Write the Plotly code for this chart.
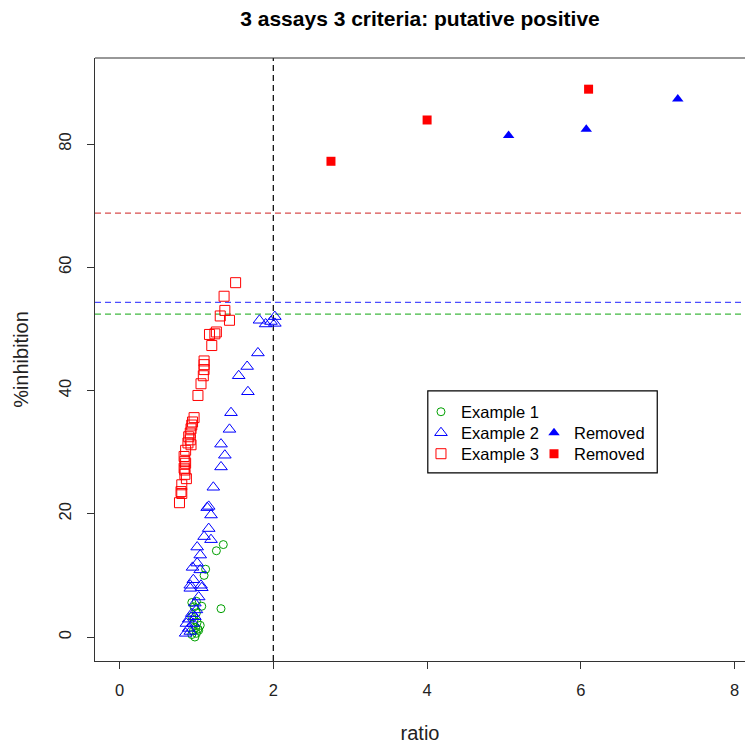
import plotly.graph_objects as go

# Example 1 (open circles)
ex1_ratio = [1.35, 1.26, 1.12, 1.10, 1.32, 1.07, 0.94, 1.00, 1.05, 1.00,
             0.98, 0.96, 0.94, 1.00, 0.97, 1.02, 0.94, 0.99, 1.01, 0.97, 1.03]
ex1_inhib = [15.0, 14.0, 11.0, 10.0, 4.6, 5.0, 5.6, 5.8, 1.9, 0.6,
             0.0, 1.0, 3.3, 3.9, 4.9, 1.3, 0.4, 1.5, 2.4, 2.8, 1.1]

# Example 2 (open triangles)
ex2_ratio = [2.02, 1.82, 1.90, 2.02, 1.97, 1.80, 1.66, 1.55, 1.67, 1.45,
             1.43, 1.32, 1.37, 1.32, 1.22, 1.16, 1.14, 1.19, 1.16, 1.10,
             1.19, 1.01, 1.05, 1.01, 1.05, 0.96, 0.92, 1.06, 0.92, 1.07,
             0.98, 1.00, 0.94, 0.90, 0.87, 0.96, 0.90, 0.92, 0.86, 0.98,
             1.03, 0.95]
ex2_inhib = [52.0, 51.4, 50.8, 50.9, 51.2, 46.1, 43.9, 42.4, 39.8, 36.4,
             33.7, 31.3, 29.5, 27.6, 24.3, 21.2, 21.0, 19.8, 17.6, 16.3,
             15.8, 14.6, 13.3, 12.0, 10.9, 9.3, 8.4, 8.4, 7.9, 8.0,
             5.5, 4.4, 3.8, 2.9, 2.2, 2.2, 1.4, 0.9, 0.6, 3.3,
             6.5, 11.3]

# Example 3 (open squares)
ex3_ratio = [1.51, 1.36, 1.37, 1.31, 1.43, 1.26, 1.24, 1.17, 1.20, 1.10,
             1.10, 1.10, 1.09, 1.06, 1.02, 0.97, 0.94, 0.93, 0.92, 0.90,
             0.93, 0.89, 0.86, 0.84, 0.85, 0.84, 0.86, 0.85, 0.85, 0.87,
             0.81, 0.80, 0.81, 0.78, 0.92, 0.95]
ex3_inhib = [57.5, 55.3, 53.0, 52.1, 51.4, 49.5, 49.2, 49.1, 47.3, 44.8,
             44.2, 43.4, 42.4, 41.1, 39.2, 35.6, 34.4, 33.8, 33.1, 32.5,
             31.2, 31.5, 30.3, 29.3, 28.5, 27.4, 28.2, 27.1, 26.4, 25.7,
             24.7, 23.6, 23.3, 21.8, 32.0, 34.9]

# Removed points (filled markers)
rm2_ratio = [5.06, 6.07, 7.26]
rm2_inhib = [81.4, 82.4, 87.3]
rm3_ratio = [2.75, 4.00, 6.10]
rm3_inhib = [77.2, 83.9, 88.9]

# Cut-off lines
ratio_cutoff = 2
inhib_cutoffs = [52.4, 54.3, 68.8]
cutoff_colors = ["rgba(0,160,0,0.75)", "rgba(0,0,255,0.7)", "rgba(200,0,0,0.7)"]

x_ticks = [0, 2, 4, 6, 8]
y_ticks = [0, 20, 40, 60, 80]

GREEN = "#00A000"
BLUE = "#0000FF"
RED = "#FF0000"
AXIS = "#333333"
FONT = "Liberation Sans, Arial, sans-serif"
FS = 16.5

fig = go.Figure()

# each legend entry gets its own one-item legend so rows can be laid out in two columns
series = [
    (ex1_ratio, ex1_inhib, "Example 1", "legend",
     dict(symbol="circle-open", size=8, color=GREEN, line=dict(width=1))),
    (ex2_ratio, ex2_inhib, "Example 2", "legend2",
     dict(symbol="triangle-up-open", size=11, color=BLUE, line=dict(width=1))),
    (ex3_ratio, ex3_inhib, "Example 3", "legend3",
     dict(symbol="square-open", size=10, color=RED, line=dict(width=1))),
    (rm2_ratio, rm2_inhib, "Removed", "legend4",
     dict(symbol="triangle-up", size=10, color=BLUE)),
    (rm3_ratio, rm3_inhib, "Removed", "legend5",
     dict(symbol="square", size=9, color=RED)),
]
for xs, ys, name, leg, mk in series:
    fig.add_trace(go.Scatter(x=xs, y=ys, mode="markers", name=name,
                             legend=leg, marker=mk, showlegend=True))

for val, col in zip(inhib_cutoffs, cutoff_colors):
    fig.add_shape(type="line", xref="paper", x0=0, x1=1, yref="y", y0=val, y1=val,
                  line=dict(color=col, width=1.2, dash="6px,4px"), layer="below")
fig.add_shape(type="line", xref="x", x0=ratio_cutoff, x1=ratio_cutoff,
              yref="paper", y0=0, y1=1,
              line=dict(color="black", width=1.2, dash="6px,4px"), layer="below")

# Plot frame (top edge) and legend box
fig.add_shape(type="line", xref="paper", yref="paper", x0=0, x1=1, y0=1, y1=1,
              line=dict(color=AXIS, width=1.2))
fig.add_shape(type="rect", xref="paper", yref="paper",
              x0=0.512, x1=0.865, y0=0.312, y1=0.448,
              line=dict(color="black", width=1.2), fillcolor="white", layer="below")

def legend_box(x, y):
    return dict(x=x, y=y, xanchor="left", yanchor="middle", visible=True,
                bgcolor="rgba(0,0,0,0)", borderwidth=0,
                font=dict(size=FS, color="black"))

fig.update_layout(
    width=745, height=744,
    margin=dict(l=95, r=0, t=58, b=83),
    showlegend=True,
    paper_bgcolor="white", plot_bgcolor="white",
    font=dict(family=FONT, size=FS, color="#222222"),
    title=dict(text="<b>3 assays 3 criteria: putative positive</b>",
               x=0.5, xanchor="center", y=0.975, yanchor="middle",
               xref="paper", font=dict(size=21, color="black")),
    xaxis=dict(range=[-0.3186, 8.134], tickvals=x_ticks, showgrid=False, zeroline=False,
               showline=True, linecolor=AXIS, linewidth=1.2,
               ticks="outside", ticklen=7, tickcolor=AXIS, tickwidth=1.2,
               ticklabelstandoff=7,
               title=dict(text="ratio", standoff=32)),
    yaxis=dict(range=[-3.89, 93.96], tickvals=y_ticks, showgrid=False, zeroline=False,
               showline=True, linecolor=AXIS, linewidth=1.2,
               ticks="outside", ticklen=7, tickcolor=AXIS, tickwidth=1.2,
               tickangle=-90, ticklabelstandoff=9,
               title=dict(text="%inhibition", standoff=22)),
    legend=legend_box(0.5015, 0.4129),
    legend2=legend_box(0.5015, 0.3781),
    legend3=legend_box(0.5015, 0.3433),
    legend4=legend_box(0.6754, 0.3781),
    legend5=legend_box(0.6754, 0.3433),
)

fig.write_html("out.html")
